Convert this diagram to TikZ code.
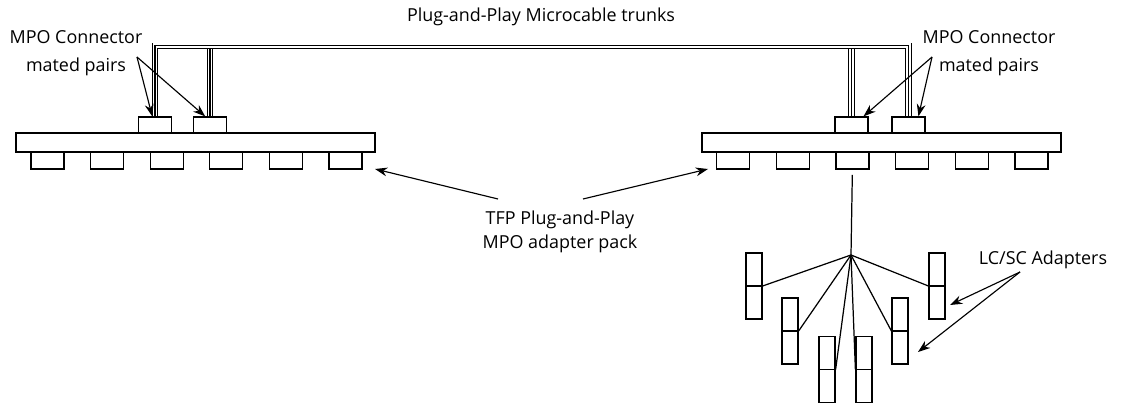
\documentclass[tikz,border=0pt]{standalone}
\usepackage{fontspec}
\setmainfont{Open Sans}
\usepackage{tikz}
\usetikzlibrary{arrows.meta}
\usetikzlibrary{calc}

\begin{document}
\begin{tikzpicture}[x=0.02cm, y=-0.02cm,
    box/.style={draw, rectangle, line width=0.7pt, inner sep=0pt, fill=white},
    panel/.style={box, minimum width=7.18cm, minimum height=0.38cm},
    port/.style={box, minimum width=0.66cm, minimum height=0.34cm},
    mpo/.style={box, minimum width=0.66cm, minimum height=0.32cm},
    adapter/.style={box, minimum width=0.32cm, minimum height=1.32cm,
        path picture={\draw[line width=0.7pt] (path picture bounding box.west) -- (path picture bounding box.east);}},
    cable/.style={line width=3.6pt, line join=miter,
        postaction={draw=white, line width=2.6pt},
        postaction={draw=black, line width=0.8pt}},
    pointer/.style={-{Stealth[length=7pt, width=5pt]}, line width=0.65pt},
    lbl/.style={align=center, inner sep=0pt, font=\fontsize{10.2}{15.7}\selectfont}]
    \useasboundingbox (0,0) rectangle (1125,408);

    % Panels
    \node[panel] (L) at (195.5, 142.5) {};
    \node[panel] (R) at (881.5, 142.5) {};
    \foreach \i in {1,...,6} {
        \node[port] (l\i) at ({47.5+59.6*(\i-1)}, 160.5) {};
        \node[port] (r\i) at ({733+59.7*(\i-1)}, 160.5) {};
    }

    % MPO connectors
    \node[mpo] (c1) at (155, 125) {};
    \node[mpo] (c2) at (210, 125) {};
    \node[mpo] (d1) at (851.5, 125) {};
    \node[mpo] (d2) at (908.5, 125) {};

    % Trunks
    \coordinate (topA) at (0, 45.7);
    \coordinate (topB) at (0, 48.5);
    \draw[cable] (c2.north) -- (c2.north |- topB);
    \draw[cable] (d1.north) -- (d1.north |- topB);
    \draw[cable] (c1.north) -- (c1.north |- topA) -| (d2.north);

    % Fan-out to adapters
    \coordinate (hub) at (851, 255);
    \node[adapter] (a1) at (754, 286) {};
    \node[adapter] (a2) at (790, 331) {};
    \node[adapter] (a3) at (827, 369.5) {};
    \node[adapter] (a4) at (864, 369.5) {};
    \node[adapter] (a5) at (900, 331) {};
    \node[adapter] (a6) at (937, 286) {};
    \draw[line width=0.7pt, shorten <=3pt] (r3.south) -- (hub);
    \draw[line width=0.7pt] (hub) -- (a1.east);
    \draw[line width=0.7pt] (hub) -- (a2.east);
    \draw[line width=0.7pt] (hub) -- (a3.east);
    \draw[line width=0.7pt] (hub) -- (a4.west);
    \draw[line width=0.7pt] (hub) -- (a5.west);
    \draw[line width=0.7pt] (hub) -- (a6.west);

    % Labels
    \node[lbl] (trunks) at (541, 16.5) {Plug-and-Play Microcable trunks};
    \node[lbl] (mpoL) at (76, 53) {MPO Connector\\mated pairs};
    \node[lbl] (mpoR) at (989, 53) {MPO Connector\\mated pairs};
    \node[lbl, font=\fontsize{10.2}{13.6}\selectfont] (pack) at (560, 232) {TFP Plug-and-Play\\MPO adapter pack};
    \node[lbl] (lcsc) at (1043, 260) {LC/SC Adapters};

    % Pointers
    \coordinate (mpoLfrom) at (137, 57);
    \coordinate (mpoRfrom) at (932, 57);
    \coordinate (packLfrom) at (498, 199);
    \coordinate (packRfrom) at (583, 199);
    \coordinate (packLto) at (375, 169);
    \coordinate (packRto) at (708, 169);
    \coordinate (lcscfrom) at (1020, 272);
    \coordinate (lcscto1) at (950, 305);
    \coordinate (lcscto2) at (918, 352);
    \draw[pointer] (mpoLfrom) -- ($(c1.north west)!0.42!(c1.north east)$);
    \draw[pointer] (mpoLfrom) -- ($(c2.north west)!0.36!(c2.north east)$);
    \draw[pointer] (mpoRfrom) -- ($(d1.north west)!0.85!(d1.north east)$);
    \draw[pointer] (mpoRfrom) -- ($(d2.north west)!0.79!(d2.north east)$);
    \draw[pointer] (packLfrom) -- (packLto);
    \draw[pointer] (packRfrom) -- (packRto);
    \draw[pointer] (lcscfrom) -- (lcscto1);
    \draw[pointer] (lcscfrom) -- (lcscto2);
\end{tikzpicture}
\end{document}
